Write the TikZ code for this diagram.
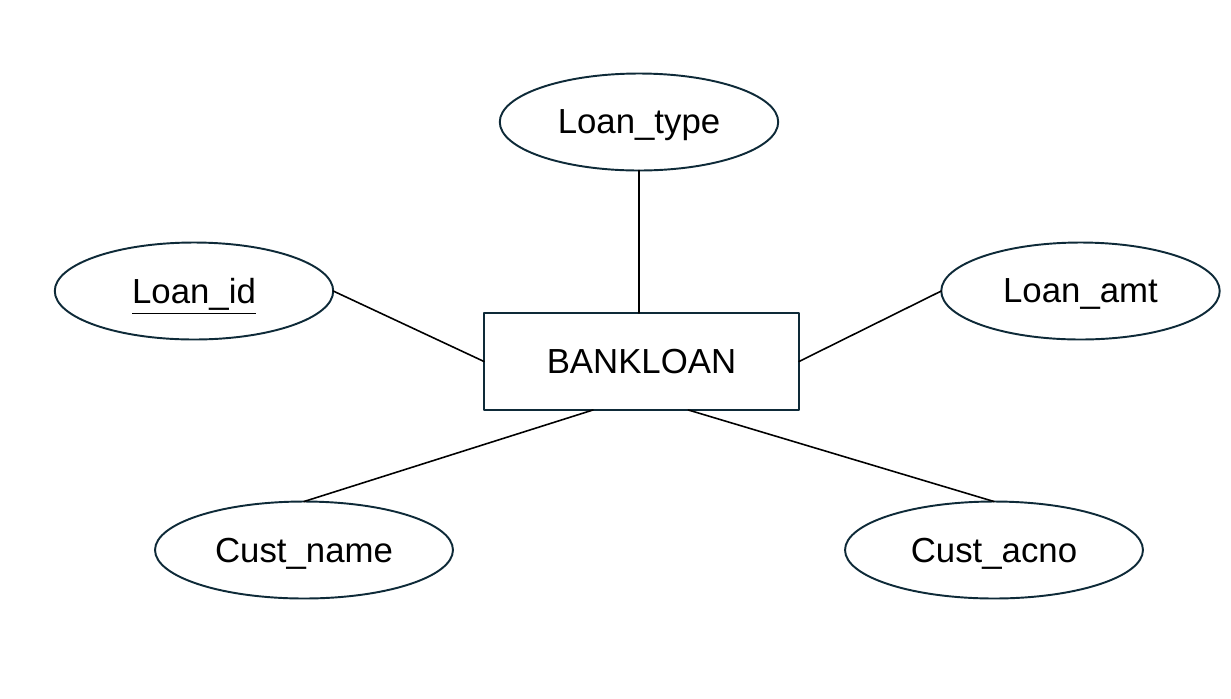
\documentclass[tikz,border=0pt]{standalone}
\usepackage{fontspec}
\setmainfont{Liberation Sans}
\usetikzlibrary{shapes.geometric}
\definecolor{edgeblue}{HTML}{0E2A38}
\begin{document}
\begin{tikzpicture}[line cap=round,line join=round,x=0.02cm,y=-0.02cm,
  attr/.style={ellipse,draw=edgeblue,line width=1.1pt,inner sep=0pt,outer sep=0pt,text depth=0pt,
    minimum width=5.57cm,minimum height=1.94cm,font=\fontsize{19.8}{22}\selectfont},
  wide/.style={attr,minimum width=5.96cm},
  entity/.style={rectangle,draw=edgeblue,line width=1.1pt,inner sep=0pt,outer sep=0pt,text depth=0pt,
    minimum width=6.3cm,minimum height=1.94cm,font=\fontsize{19.8}{22}\selectfont},
  link/.style={line width=0.9pt,black}]
\useasboundingbox (0,0) rectangle (1231,698);
\node[entity] (bank) at (641.5,361.5) {BANKLOAN};
\node[attr] (ltype) at (639,122) {Loan\_type};
\node[attr] (lid) at (194,291) {\underline{Loan\_id}};
\node[attr] (lamt) at (1080.5,291) {Loan\_amt};
\node[wide] (cname) at (304,550) {Cust\_name};
\node[wide] (cacno) at (994,550) {Cust\_acno};
\draw[link] (ltype.south) -- (bank.north -| ltype.south);
\draw[link] (lid.east) -- (bank.west);
\draw[link] (lamt.west) -- (bank.east);
\draw[link] (bank.225) -- (cname.north);
\draw[link] (bank.-46) -- (cacno.north);
\end{tikzpicture}
\end{document}
